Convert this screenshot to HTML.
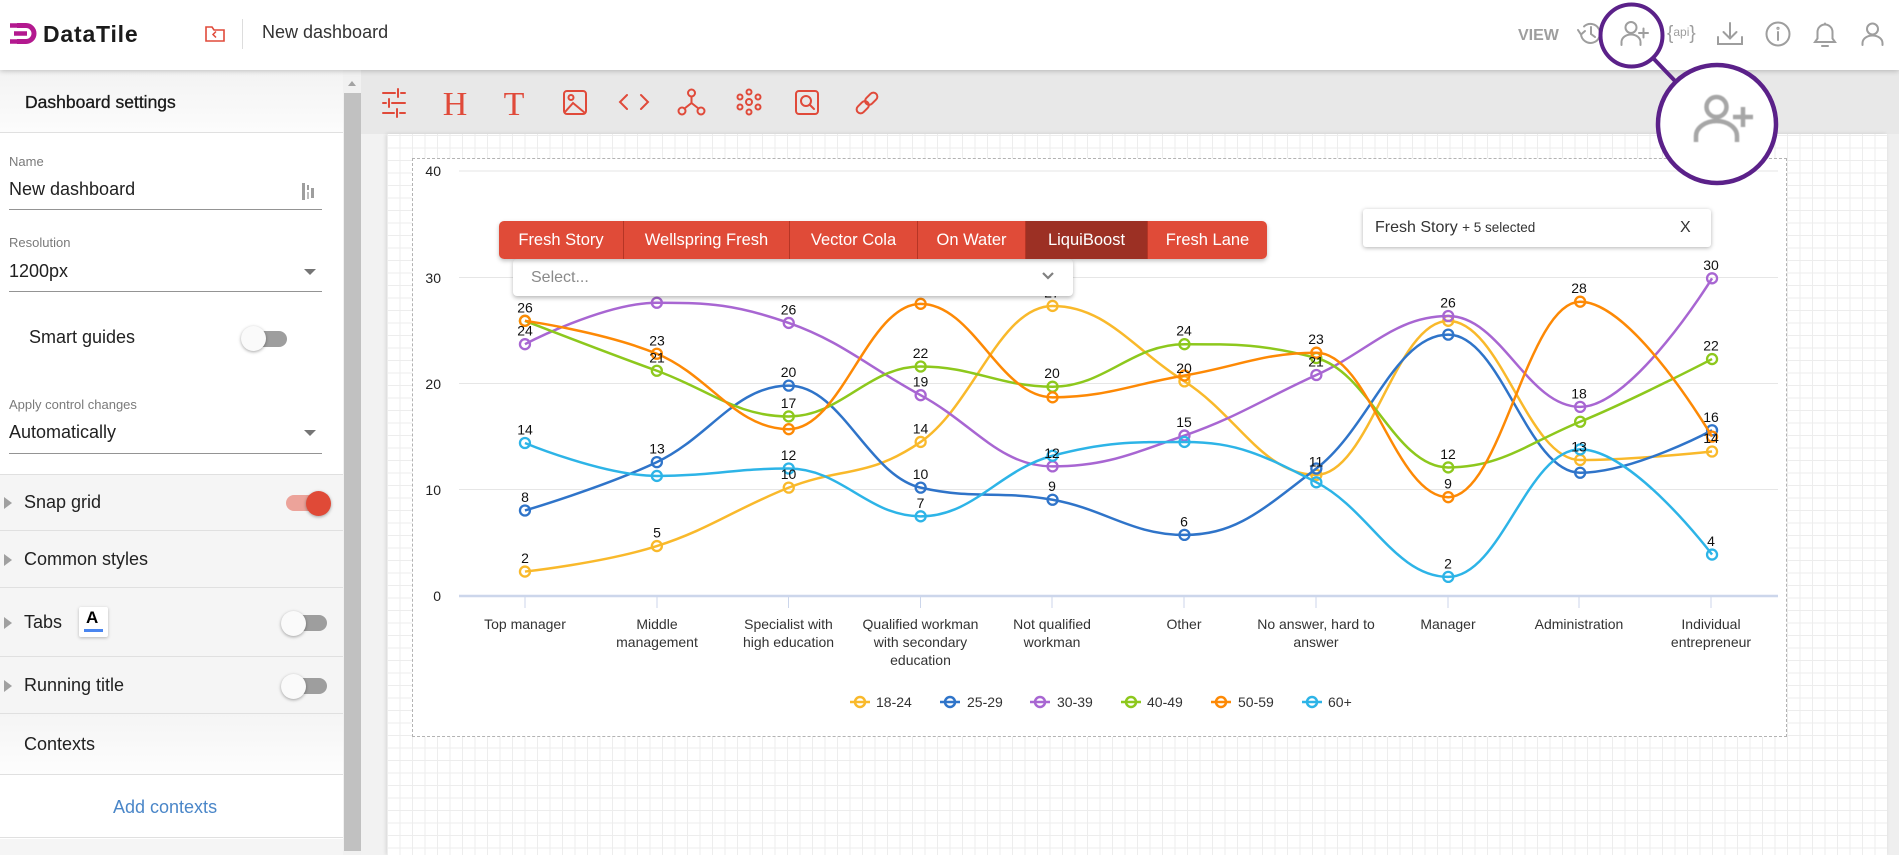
<!DOCTYPE html>
<html><head><meta charset="utf-8">
<style>
*{box-sizing:border-box}
body{margin:0;width:1899px;height:855px;overflow:hidden;position:relative;background:#e8e8e8;font-family:"Liberation Sans",Arial,sans-serif;color:#212121}
.a{position:absolute}
.t{position:absolute;white-space:nowrap}
.sec{position:absolute;left:0;width:343px;background:#f5f5f5;border-bottom:1px solid #e0e0e0}
.tri{position:absolute;left:4px;width:0;height:0;border-top:6px solid transparent;border-bottom:6px solid transparent;border-left:8px solid #a0a0a0}
.lbl{font-size:13px;color:#7a7a7a;line-height:16px}
.val{font-size:18px;color:#212121;line-height:21px}
.uline{position:absolute;left:9px;width:313px;height:1px;background:#949494}
.dd{position:absolute;left:304px;width:0;height:0;border-left:6px solid transparent;border-right:6px solid transparent;border-top:6px solid #757575}
.tgl-track{position:absolute;width:34px;height:16px;border-radius:8px;background:#9e9e9e}
.tgl-knob{position:absolute;width:25px;height:25px;border-radius:50%;background:#fafafa;box-shadow:0 1px 3px rgba(0,0,0,.35)}
.tabs{position:absolute;left:499px;top:221px;height:38px;display:flex;border-radius:5px;overflow:hidden;box-shadow:0 2px 4px rgba(0,0,0,.25);z-index:6}
.tabs div{background:#e04b38;color:#fff;font-size:16.5px;line-height:38px;text-align:center;border-left:1px solid #b63525}
.tabs div:first-child{border-left:none}
</style></head><body>

<!-- canvas area -->
<div class="a" style="left:361px;top:70px;width:1538px;height:64px;background:#e8e8e8"></div>
<div class="a" style="left:361px;top:134px;width:26px;height:721px;background:#f2f2f2"></div>
<div class="a" style="left:1887px;top:134px;width:12px;height:721px;background:#efefef"></div>
<div class="a" style="left:387px;top:134px;width:1500px;height:721px;background-color:#fff;background-image:linear-gradient(#ededed 1px,transparent 1px),linear-gradient(90deg,#ededed 1px,transparent 1px);background-size:12.5px 12.5px;background-position:0 1px;box-shadow:-1px 0 4px rgba(0,0,0,.12)"></div>

<!-- chart box -->
<div class="a" style="left:412px;top:158px;width:1375px;height:579px;background:#fff;border:1px dashed #b3b3b3;z-index:2"></div>

<svg class="a" style="left:0;top:0;z-index:3" width="1899" height="855" viewBox="0 0 1899 855">
 <g stroke="#e6e6e6" stroke-width="1">
  <line x1="459" y1="171" x2="1778" y2="171"/>
  <line x1="459" y1="277.5" x2="1778" y2="277.5"/>
  <line x1="459" y1="383.5" x2="1778" y2="383.5"/>
  <line x1="459" y1="489.5" x2="1778" y2="489.5"/>
 </g>
 <line x1="459" y1="596" x2="1778" y2="596" stroke="#ccd6eb" stroke-width="2.5"/>
 <g stroke="#ccd6eb" stroke-width="1">
  <line x1="525" y1="596" x2="525" y2="608"/><line x1="657" y1="596" x2="657" y2="608"/>
  <line x1="788.5" y1="596" x2="788.5" y2="608"/><line x1="920.5" y1="596" x2="920.5" y2="608"/>
  <line x1="1052" y1="596" x2="1052" y2="608"/><line x1="1184" y1="596" x2="1184" y2="608"/>
  <line x1="1316" y1="596" x2="1316" y2="608"/><line x1="1448" y1="596" x2="1448" y2="608"/>
  <line x1="1579" y1="596" x2="1579" y2="608"/><line x1="1711" y1="596" x2="1711" y2="608"/>
 </g>
 <g font-family="Liberation Sans, Arial, sans-serif" font-size="14" fill="#222" text-anchor="end">
  <text x="441" y="176">40</text><text x="441" y="283">30</text><text x="441" y="389">20</text><text x="441" y="495">10</text><text x="441" y="601">0</text>
 </g>
 <g font-family="Liberation Sans, Arial, sans-serif" font-size="14" fill="#333" text-anchor="middle">
  <text x="525" y="629">Top manager</text>
  <text x="657" y="629">Middle</text><text x="657" y="647">management</text>
  <text x="788.5" y="629">Specialist with</text><text x="788.5" y="647">high education</text>
  <text x="920.5" y="629">Qualified workman</text><text x="920.5" y="647">with secondary</text><text x="920.5" y="665">education</text>
  <text x="1052" y="629">Not qualified</text><text x="1052" y="647">workman</text>
  <text x="1184" y="629">Other</text>
  <text x="1316" y="629">No answer, hard to</text><text x="1316" y="647">answer</text>
  <text x="1448" y="629">Manager</text>
  <text x="1579" y="629">Administration</text>
  <text x="1711" y="629">Individual</text><text x="1711" y="647">entrepreneur</text>
 </g>
 <g id="lines"></g>
 <g font-family="Liberation Sans, Arial, sans-serif" font-size="14" fill="#111" text-anchor="middle">
  <text x="525" y="312.3">26</text><text x="525" y="335.7">24</text><text x="525" y="434.5">14</text><text x="525" y="502">8</text><text x="525" y="563.1">2</text>
  <text x="657" y="294.3">28</text><text x="657" y="345.3">23</text><text x="657" y="362.3">21</text><text x="657" y="453.6">13</text><text x="657" y="537.6">5</text>
  <text x="788.5" y="314.4">26</text><text x="788.5" y="377.1">20</text><text x="788.5" y="407.9">17</text><text x="788.5" y="460">12</text><text x="788.5" y="479.1">10</text>
  <text x="920.5" y="295.8">28</text><text x="920.5" y="358">22</text><text x="920.5" y="386.7">19</text><text x="920.5" y="433.4">14</text><text x="920.5" y="479.1">10</text><text x="920.5" y="507.8">7</text>
  <text x="1052" y="297.4">27</text><text x="1052" y="378.2">20</text><text x="1052" y="457.9">12</text><text x="1052" y="491.2">9</text>
  <text x="1184" y="335.7">24</text><text x="1184" y="372.9">20</text><text x="1184" y="427.1">15</text><text x="1184" y="526.4">6</text>
  <text x="1316" y="344.2">23</text><text x="1316" y="366.5">21</text><text x="1316" y="466.4">11</text>
  <text x="1448" y="307.5">26</text><text x="1448" y="458.9">12</text><text x="1448" y="488.7">9</text><text x="1448" y="568.4">2</text>
  <text x="1579" y="293.2">28</text><text x="1579" y="398.4">18</text><text x="1579" y="451.5">13</text>
  <text x="1711" y="269.8">30</text><text x="1711" y="350.6">22</text><text x="1711" y="421.8">16</text><text x="1711" y="443">14</text><text x="1711" y="546.1">4</text>
 </g>
 <!-- legend -->
 <g stroke-width="2.5" fill="none">
  <line x1="850" y1="702" x2="870" y2="702" stroke="#f9b92b"/><circle cx="860" cy="702" r="5" stroke="#f9b92b"/>
  <line x1="940" y1="702" x2="960" y2="702" stroke="#2f74c9"/><circle cx="950" cy="702" r="5" stroke="#2f74c9"/>
  <line x1="1030" y1="702" x2="1050" y2="702" stroke="#a866d2"/><circle cx="1040" cy="702" r="5" stroke="#a866d2"/>
  <line x1="1121" y1="702" x2="1141" y2="702" stroke="#8dc81d"/><circle cx="1131" cy="702" r="5" stroke="#8dc81d"/>
  <line x1="1211" y1="702" x2="1231" y2="702" stroke="#fd8905"/><circle cx="1221" cy="702" r="5" stroke="#fd8905"/>
  <line x1="1302" y1="702" x2="1322" y2="702" stroke="#2db4e7"/><circle cx="1312" cy="702" r="5" stroke="#2db4e7"/>
 </g>
 <g font-family="Liberation Sans, Arial, sans-serif" font-size="14" fill="#333">
  <text x="876" y="707">18-24</text><text x="967" y="707">25-29</text><text x="1057" y="707">30-39</text><text x="1147" y="707">40-49</text><text x="1238" y="707">50-59</text><text x="1328" y="707">60+</text>
 </g>
</svg>

<!-- overlays on chart -->
<div class="a" style="left:513px;top:259px;width:560px;height:37px;background:#fff;border-radius:4px;box-shadow:0 2px 4px rgba(0,0,0,.28);z-index:5"></div>
<div class="t" style="left:531px;top:268px;font-size:16px;line-height:19px;color:#8a8a8a;z-index:5">Select...</div>
<svg class="a" style="left:1040px;top:270px;z-index:5" width="16" height="12"><path d="M3 3 L8 8 L13 3" stroke="#808080" stroke-width="2.2" fill="none"/></svg>
<div class="tabs">
 <div style="width:124px">Fresh Story</div>
 <div style="width:166px">Wellspring Fresh</div>
 <div style="width:128px">Vector Cola</div>
 <div style="width:108px">On Water</div>
 <div style="width:122px;background:#9c3024">LiquiBoost</div>
 <div style="width:120px">Fresh Lane</div>
</div>
<div class="a" style="left:1363px;top:209px;width:348px;height:38px;background:#fff;border-radius:3px;box-shadow:0 1px 4px rgba(0,0,0,.3);z-index:5"></div>
<div class="t" style="left:1375px;top:219px;font-size:16px;line-height:18px;color:#333;z-index:6">Fresh Story <span style="font-size:13.5px">+ 5 selected</span></div>
<div class="t" style="left:1680px;top:219px;font-size:16px;line-height:18px;color:#333;z-index:6">X</div>

<!-- sidebar -->
<div class="a" style="left:0;top:70px;width:343px;height:785px;background:#fff;z-index:4"></div>
<div class="a" style="left:0;top:70px;width:343px;height:63px;background:linear-gradient(#f3f3f3,#fcfcfc);border-bottom:1px solid #e0e0e0;z-index:4"></div>
<div class="t" style="left:25px;top:92px;font-size:17.5px;line-height:20px;color:#1a1a1a;-webkit-text-stroke:0.3px #1a1a1a;z-index:5">Dashboard settings</div>
<div style="position:absolute;left:0;top:0;z-index:5">
 <div class="t lbl" style="left:9px;top:154px">Name</div>
 <div class="t val" style="left:9px;top:179px">New dashboard</div>
 <svg class="a" style="left:300px;top:182px" width="18" height="20"><rect x="2" y="1" width="3" height="17" fill="#9e9e9e"/><rect x="7" y="3" width="2" height="5" fill="#9e9e9e"/><rect x="7" y="10" width="2" height="7" fill="#bdbdbd"/><rect x="11" y="6" width="3" height="10" fill="#9e9e9e"/></svg>
 <div class="uline" style="top:209px"></div>
 <div class="t lbl" style="left:9px;top:235px">Resolution</div>
 <div class="t val" style="left:9px;top:261px">1200px</div>
 <div class="dd" style="top:269px"></div>
 <div class="uline" style="top:291px"></div>
 <div class="t val" style="left:29px;top:327px">Smart guides</div>
 <div class="tgl-track" style="left:253px;top:331px"></div>
 <div class="tgl-knob" style="left:241px;top:326px"></div>
 <div class="t lbl" style="left:9px;top:397px">Apply control changes</div>
 <div class="t val" style="left:9px;top:422px">Automatically</div>
 <div class="dd" style="top:430px"></div>
 <div class="uline" style="top:453px"></div>

 <div class="sec" style="top:474px;height:57px;border-top:1px solid #e0e0e0"></div>
 <div class="tri" style="top:497px"></div>
 <div class="t val" style="left:24px;top:492px">Snap grid</div>
 <div class="tgl-track" style="left:286px;top:495px;background:#eca39a"></div>
 <div class="tgl-knob" style="left:306px;top:491px;background:#e04a37"></div>

 <div class="sec" style="top:531px;height:57px"></div>
 <div class="tri" style="top:554px"></div>
 <div class="t val" style="left:24px;top:549px">Common styles</div>

 <div class="sec" style="top:588px;height:69px"></div>
 <div class="tri" style="top:617px"></div>
 <div class="t val" style="left:24px;top:612px">Tabs</div>
 <div class="a" style="left:79px;top:607px;width:29px;height:30px;background:#fff;border-radius:2px;box-shadow:0 1px 3px rgba(0,0,0,.25)"></div>
 <div class="t" style="left:86px;top:609px;font-size:17px;line-height:18px;font-weight:bold;color:#000">A</div>
 <div class="a" style="left:84px;top:629px;width:19px;height:3px;background:#4a86f0"></div>
 <div class="tgl-track" style="left:293px;top:615px"></div>
 <div class="tgl-knob" style="left:281px;top:611px"></div>

 <div class="sec" style="top:657px;height:57px"></div>
 <div class="tri" style="top:680px"></div>
 <div class="t val" style="left:24px;top:675px">Running title</div>
 <div class="tgl-track" style="left:293px;top:678px"></div>
 <div class="tgl-knob" style="left:281px;top:674px"></div>

 <div class="sec" style="top:714px;height:61px;background:linear-gradient(#f5f5f5,#fdfdfd)"></div>
 <div class="t val" style="left:24px;top:734px">Contexts</div>
 <div class="a" style="left:0;top:775px;width:343px;height:63px;background:#fff;border-bottom:1px solid #e0e0e0"></div>
 <div class="t val" style="left:113px;top:797px;color:#4a86c8">Add contexts</div>
 <div class="a" style="left:0;top:839px;width:343px;height:16px;background:#f5f5f5"></div>
 <!-- scrollbar -->
 <div class="a" style="left:343px;top:70px;width:18px;height:785px;background:#f1f1f1"></div>
 <div class="a" style="left:344px;top:93px;width:17px;height:758px;background:#c1c1c1"></div>
 <div class="a" style="left:348px;top:81px;width:0;height:0;border-left:4.5px solid transparent;border-right:4.5px solid transparent;border-bottom:5px solid #a3a3a3"></div>
</div>

<!-- toolbar icons -->
<svg class="a" style="left:0;top:0;z-index:3" width="900" height="134">
 <g stroke="#e04a3a" stroke-width="2" fill="none" stroke-linecap="round">
  <path d="M383 93 H395 M401 93 H405 M398 89 V97 M383 103 H386 M392 103 H405 M389 99 V107 M383 113 H394 M400 113 H405 M397 109 V117"/>
  <rect x="564" y="91" width="22" height="23" rx="3"/><circle cx="571" cy="97.5" r="2.5"/><path d="M565 112 L573 103 L585 113"/>
  <path d="M627 95 L620 102 L627 109 M641 95 L648 102 L641 109"/>
  <circle cx="691.5" cy="93" r="3.5"/><circle cx="682" cy="111" r="3.5"/><circle cx="701" cy="111" r="3.5"/><path d="M691.5 96.5 V103 L684.5 108.5 M691.5 103 L698.5 108.5"/>
  <circle cx="749" cy="102" r="3"/><circle cx="749" cy="92" r="2.5"/><circle cx="749" cy="112" r="2.5"/><circle cx="740" cy="97" r="2.5"/><circle cx="740" cy="107" r="2.5"/><circle cx="758" cy="97" r="2.5"/><circle cx="758" cy="107" r="2.5"/>
  <rect x="796" y="91" width="22" height="23" rx="3"/><circle cx="806" cy="101" r="5"/><path d="M810 105 L814 109"/>
  <g transform="rotate(-45 867 103)"><rect x="854" y="99" width="14" height="8" rx="4"/><rect x="866" y="99" width="14" height="8" rx="4"/></g>
 </g>
 <g font-family="Liberation Serif, serif" font-size="34" fill="#e04a3a" text-anchor="middle">
  <text x="455" y="115">H</text><text x="514" y="115">T</text>
 </g>
</svg>

<!-- header -->
<div class="a" style="left:0;top:0;width:1899px;height:70px;background:#fff;box-shadow:0 1px 5px rgba(0,0,0,.22);z-index:8"></div>
<svg class="a" style="left:0;top:0;z-index:9" width="1899" height="70">
 <path d="M17 25.5 H26 A8 8 0 0 1 26 41.5 H17" stroke="#b3198f" stroke-width="5" fill="none"/>
 <path d="M10 25.5 H20 M14 33.5 H27 M10 41.5 H20" stroke="#b3198f" stroke-width="4.5"/>
 <path d="M206 27 h6 l2 3 h10 v11 h-18 z" stroke="#e04a3a" stroke-width="1.6" fill="none"/>
 <path d="M216 31.5 l-3 3 l3 3" stroke="#e04a3a" stroke-width="1.5" fill="none"/>
 <line x1="242.5" y1="19" x2="242.5" y2="49" stroke="#dddddd"/>
 <g stroke="#9e9e9e" stroke-width="2" fill="none" stroke-linecap="round">
  <path d="M1581 34 A9.5 9.5 0 1 0 1584 26.5"/><path d="M1578 30 L1581 34.5 L1585 31"/><path d="M1591 27 V34 L1595 37"/>
  <circle cx="1631" cy="27.5" r="5.5"/><path d="M1621.5 45 V42 A9.5 7.5 0 0 1 1640.5 42 V45"/><path d="M1639 33 H1648 M1643.5 28.5 V37.5"/>
  <path d="M1730 23 V38 M1723.5 32 L1730 38.5 L1736.5 32 M1718 37 V44 H1742 V37"/>
  <circle cx="1778" cy="34" r="11.5"/><path d="M1778 32 V40"/><circle cx="1778" cy="28.3" r="0.6"/>
  <path d="M1815 42 H1835 L1832.5 38.5 V32 A7.5 7.5 0 0 0 1817.5 32 V38.5 Z"/><path d="M1822 46 H1828"/><path d="M1825 23.5 V24.5"/>
  <circle cx="1872.5" cy="29" r="5.5"/><path d="M1862.5 45 V43 A10 7.5 0 0 1 1882.5 43 V45"/>
 </g>
 <text x="1518" y="40" font-family="Liberation Sans, Arial, sans-serif" font-size="16" font-weight="bold" fill="#9e9e9e">VIEW</text>
 <text x="1667" y="39" font-family="Liberation Sans, Arial, sans-serif" font-size="19" fill="#9e9e9e">{<tspan font-size="12" dy="-3">api</tspan><tspan dy="3">}</tspan></text>
</svg>
<div class="t" style="left:43px;top:21px;font-size:23px;line-height:26px;font-weight:bold;letter-spacing:0.8px;color:#1b1b1b;z-index:9">DataTile</div>
<div class="t" style="left:262px;top:22px;font-size:18px;line-height:21px;color:#333;z-index:9">New dashboard</div>

<!-- magnifier callout -->
<svg class="a" style="left:1590px;top:0;z-index:20" width="200" height="190">
 <circle cx="41.5" cy="35.5" r="31" stroke="#5b2189" stroke-width="4" fill="none"/>
 <line x1="63" y1="58" x2="86" y2="82" stroke="#5b2189" stroke-width="4"/>
 <circle cx="127" cy="124" r="59" stroke="#5b2189" stroke-width="4.5" fill="#fff"/>
 <g stroke="#a6a6a6" stroke-width="4.5" fill="none" style="filter:blur(0.5px)">
  <circle cx="126.5" cy="107" r="10"/>
  <path d="M106 142 V136 A20.5 15 0 0 1 147 136 V142"/>
  <path d="M143 117 H163 M153 107 V127"/>
 </g>
</svg>

<script>
(function(){
 var X0=459,PW=131.9,Y0=596,K=10.625,NS="http://www.w3.org/2000/svg";
 var series=[
  ["#f9b92b",[2.3,4.7,10.2,14.5,27.3,20.2,11.4,25.9,12.8,13.6]],
  ["#2f74c9",[8.05,12.6,19.8,10.2,9.06,5.75,12.0,24.6,11.6,15.6]],
  ["#a866d2",[23.7,27.6,25.7,18.9,12.2,15.1,20.8,26.35,17.8,29.9]],
  ["#8dc81d",[25.9,21.2,16.9,21.6,19.7,23.7,22.4,12.1,16.4,22.3]],
  ["#fd8905",[25.9,22.8,15.7,27.5,18.7,20.75,22.9,9.3,27.7,15.0]],
  ["#2db4e7",[14.4,11.3,12.0,7.5,13.2,14.5,10.7,1.8,13.8,3.9]]
 ];
 function spline(p){
  var s=1.5,d=2.5,path="M"+p[0][0]+","+p[0][1],prev=null;
  for(var i=1;i<p.length;i++){
   var px=p[i][0],py=p[i][1],lx=p[i-1][0],ly=p[i-1][1],lcx=px,lcy=py,rcx=null,rcy=null;
   if(i<p.length-1){
    var nx=p[i+1][0],ny=p[i+1][1];
    lcx=(s*px+lx)/d;lcy=(s*py+ly)/d;rcx=(s*px+nx)/d;rcy=(s*py+ny)/d;
    if(rcx!==lcx){var c=((rcy-lcy)*(rcx-px))/(rcx-lcx)+py-rcy;lcy+=c;rcy+=c;}
    if(lcy>ly&&lcy>py){lcy=Math.max(ly,py);rcy=2*py-lcy;}else if(lcy<ly&&lcy<py){lcy=Math.min(ly,py);rcy=2*py-lcy;}
    if(rcy>ny&&rcy>py){rcy=Math.max(ny,py);lcy=2*py-rcy;}else if(rcy<ny&&rcy<py){rcy=Math.min(ny,py);lcy=2*py-rcy;}
   }
   var c1=prev||[lx,ly];
   path+=" C"+c1[0]+","+c1[1]+" "+lcx+","+lcy+" "+px+","+py;
   prev=(rcx!==null)?[rcx,rcy]:null;
  }
  return path;
 }
 var g=document.getElementById("lines");
 series.forEach(function(sr){
  var col=sr[0],pts=sr[1].map(function(v,i){return [X0+PW*(i+0.5),Y0-K*v];});
  var grp=document.createElementNS(NS,"g");
  var pa=document.createElementNS(NS,"path");
  pa.setAttribute("d",spline(pts));pa.setAttribute("stroke",col);pa.setAttribute("stroke-width","2.5");pa.setAttribute("fill","none");
  grp.appendChild(pa);
  pts.forEach(function(pt){
   var c=document.createElementNS(NS,"circle");
   c.setAttribute("cx",pt[0]);c.setAttribute("cy",pt[1]);c.setAttribute("r","5");
   c.setAttribute("stroke",col);c.setAttribute("stroke-width","2.3");c.setAttribute("fill","none");
   grp.appendChild(c);
  });
  g.appendChild(grp);
 });
})();
</script>
</body></html>
